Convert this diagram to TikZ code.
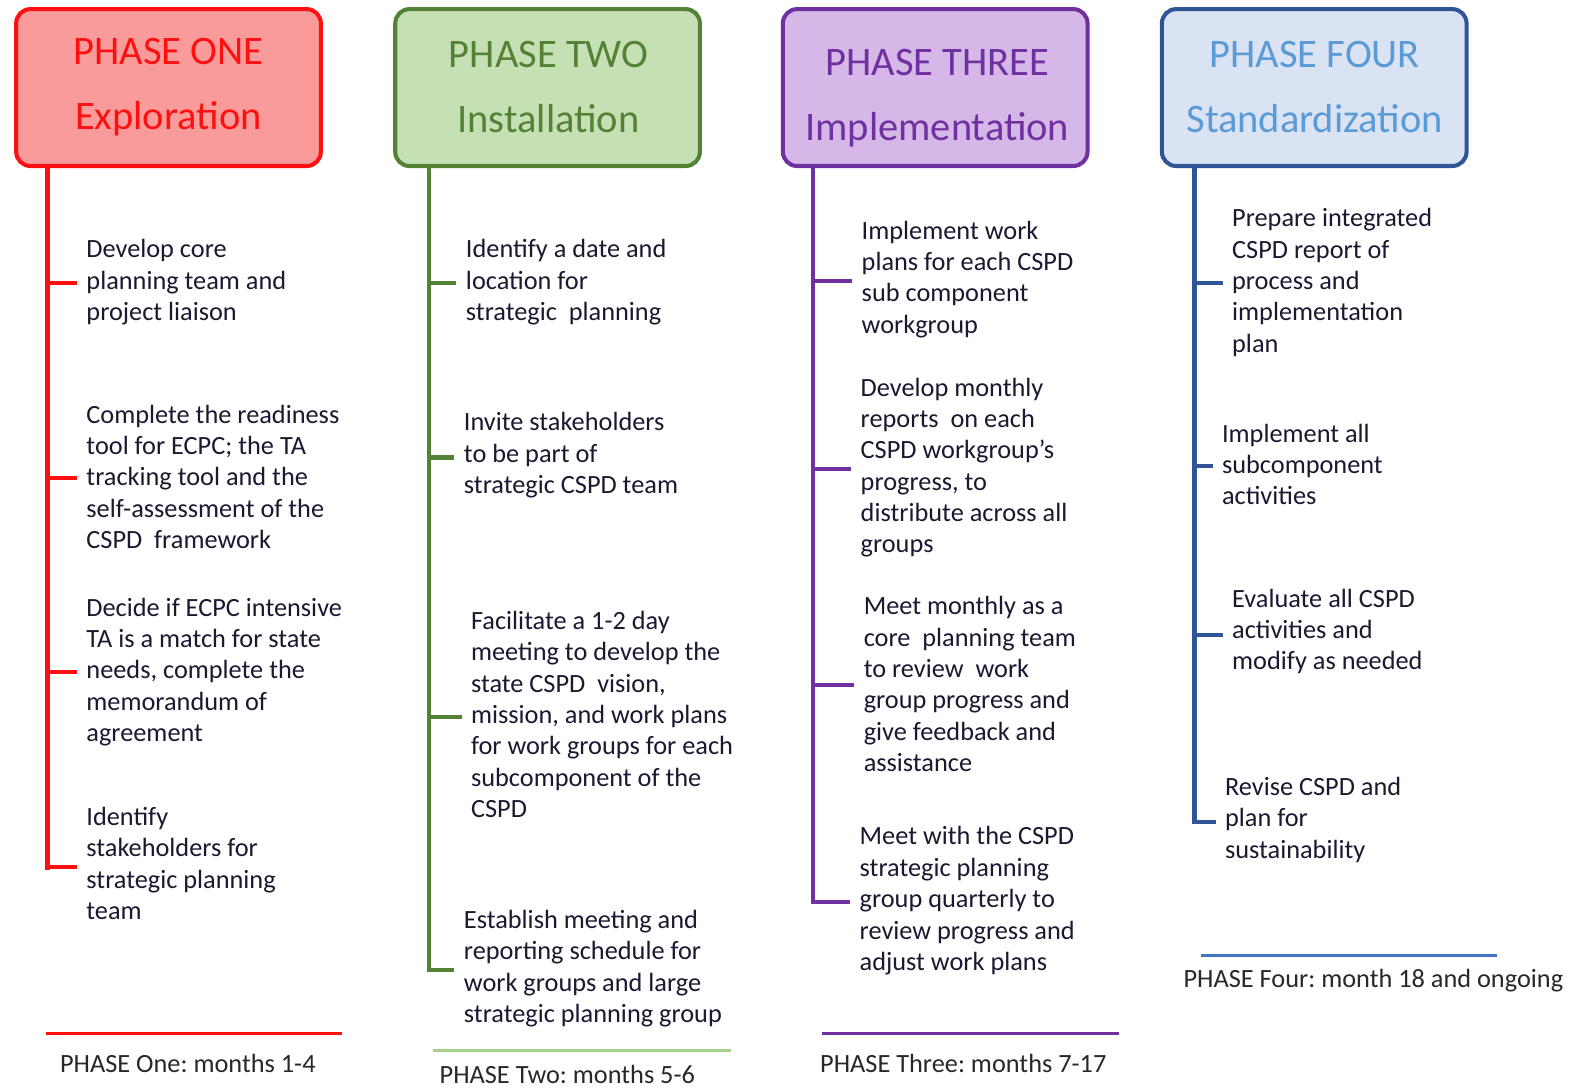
\documentclass[tikz,border=0pt]{standalone}
\usepackage{fontspec}
\setmainfont{Carlito}
\frenchspacing
\definecolor{redB}{RGB}{255,16,16}
\definecolor{redF}{RGB}{249,155,155}
\definecolor{grnB}{RGB}{84,130,53}
\definecolor{grnF}{RGB}{197,224,180}
\definecolor{grnL}{RGB}{169,209,142}
\definecolor{purB}{RGB}{112,48,160}
\definecolor{purF}{RGB}{213,184,232}
\definecolor{bluB}{RGB}{47,85,151}
\definecolor{bluF}{RGB}{218,227,243}
\definecolor{bluT}{RGB}{91,155,213}
\definecolor{bluL}{RGB}{68,114,196}
\definecolor{txt}{RGB}{28,24,48}
\definecolor{lbl}{RGB}{40,40,40}
\tikzset{
  phbox/.style 2 args={draw=#1, fill=#2, line width=2pt, rounded corners=7pt,
    minimum width=150.5pt, minimum height=77.5pt, inner sep=0pt},
  htext/.style={text=#1, font=\fontsize{20}{32.5}\selectfont, align=center, inner sep=0pt},
  item/.style={anchor=west, align=left, inner sep=0pt, font=\fontsize{13}{15.5}\selectfont, text=txt},
  spine/.style={draw=#1, line width=2.2pt},
  twig/.style={draw=#1, line width=2pt, shorten >=4.5pt},
  rulel/.style={draw=#1, line width=1.5pt},
  plabel/.style={anchor=west, inner sep=0pt, font=\fontsize{13}{15.5}\selectfont, text=lbl}
}
\begin{document}
\begin{tikzpicture}[x=0.5pt,y=-0.5pt]
\useasboundingbox[fill=white] (0,0) rectangle (1568,1075);

% header boxes
\node[phbox={redB}{redF}] (bA) at (166.5,86.5) {};
\node[phbox={grnB}{grnF}] (bB) at (541,86.5) {};
\node[phbox={purB}{purF}] (bC) at (924,86.5) {};
\node[phbox={bluB}{bluF}] (bD) at (1298.5,86.5) {};
\node[htext=redB] (hA) at (166.5,86) {PHASE ONE\\Exploration};
\node[htext=grnB] (hB) at (542,86) {PHASE TWO\\Installation};
\node[htext=purB] (hC) at (926,97) {PHASE THREE\\Implementation};
\node[htext=bluT] (hD) at (1299,86) {PHASE FOUR\\Standardization};

% items phase one
\node[item] (tA1) at (85,279) {Develop core\\planning team and\\project liaison};
\node[item] (tA2) at (85,471) {Complete the readiness\\tool for ECPC; the TA\\tracking tool and the\\self-assessment of the\\CSPD~ framework};
\node[item] (tA3) at (85,664) {Decide if ECPC intensive\\TA is a match for state\\needs, complete the\\memorandum of\\agreement};
\node[item] (tA4) at (85,853) {Identify\\stakeholders for\\strategic planning\\team};
% items phase two
\node[item] (tB1) at (460,279) {Identify a date and\\location for\\strategic~ planning};
\node[item] (tB2) at (458,450) {Invite stakeholders\\to be part of\\strategic CSPD team};
\node[item] (tB3) at (465,706) {Facilitate a 1-2 day\\meeting to develop the\\state CSPD~ vision,\\mission, and work plans\\for work groups for each\\subcomponent of the\\CSPD};
\node[item] (tB4) at (458,957) {Establish meeting and\\reporting schedule for\\work groups and large\\strategic planning group};
% items phase three
\node[item] (tC1) at (851,276) {Implement work\\plans for each CSPD\\sub component\\workgroup};
\node[item] (tC2) at (850,462) {Develop monthly\\reports~ on each\\CSPD workgroup’s\\progress, to\\distribute across all\\groups};
\node[item] (tC3) at (853,676) {Meet monthly as a\\core~ planning team\\to review~ work\\group progress and\\give feedback and\\assistance};
\node[item] (tC4) at (849,890) {Meet with the CSPD\\strategic planning\\group quarterly to\\review progress and\\adjust work plans};
% items phase four
\node[item] (tD1) at (1217,279) {Prepare integrated\\CSPD report of\\process and\\implementation\\plan};
\node[item] (tD2) at (1207,459) {Implement all\\subcomponent\\activities};
\node[item] (tD3) at (1217,624) {Evaluate all CSPD\\activities and\\modify as needed};
\node[item] (tD4) at (1210,810) {Revise CSPD and\\plan for\\sustainability};

% spine coordinates
\coordinate (a1) at (47,280); \coordinate (a2) at (47,472); \coordinate (a3) at (47,664); \coordinate (a4) at (47,857);
\coordinate (b1) at (424,280); \coordinate (b2) at (424,452); \coordinate (b3) at (424,708); \coordinate (b4) at (424,958);
\coordinate (c1) at (803,278); \coordinate (c2) at (803,463); \coordinate (c3) at (803,677); \coordinate (c4) at (803,891);
\coordinate (d1) at (1180,280); \coordinate (d2) at (1180,460); \coordinate (d3) at (1180,627); \coordinate (d4) at (1180,812);

\draw[spine=redB] (bA.south -| a4) -- ([yshift=-1.1pt]a4);
\draw[spine=grnB] (bB.south -| b4) -- ([yshift=-1.1pt]b4);
\draw[spine=purB] (bC.south -| c4) -- ([yshift=-1.1pt]c4);
\draw[spine=bluB] (bD.south -| d4) -- ([yshift=-1.1pt]d4);

\foreach \i in {1,2,3,4}{
  \draw[twig=redB] (a\i) -- (a\i -| tA\i.west);
  \draw[twig=grnB] (b\i) -- (b\i -| tB\i.west);
  \draw[twig=purB] (c\i) -- (c\i -| tC\i.west);
  \draw[twig=bluB] (d\i) -- (d\i -| tD\i.west);
}

% bottom rules and labels
\coordinate (rA1) at (45,1021); \coordinate (rA2) at (338,1021);
\coordinate (rB1) at (428,1038); \coordinate (rB2) at (722,1038);
\coordinate (rC1) at (812,1021); \coordinate (rC2) at (1106,1021);
\coordinate (rD1) at (1187,944); \coordinate (rD2) at (1479,944);
\draw[rulel=redB] (rA1) -- (rA2);
\draw[rulel=grnL] (rB1) -- (rB2);
\draw[rulel=purB] (rC1) -- (rC2);
\draw[rulel=bluL] (rD1) -- (rD2);
\node[plabel] (lA) at (59,1051) {PHASE One: months 1-4};
\node[plabel] (lB) at (434,1062) {PHASE Two: months 5-6};
\node[plabel] (lC) at (810,1051) {PHASE Three: months 7-17};
\node[plabel] (lD) at (1169,969) {PHASE Four: month 18 and ongoing};
\end{tikzpicture}
\end{document}
